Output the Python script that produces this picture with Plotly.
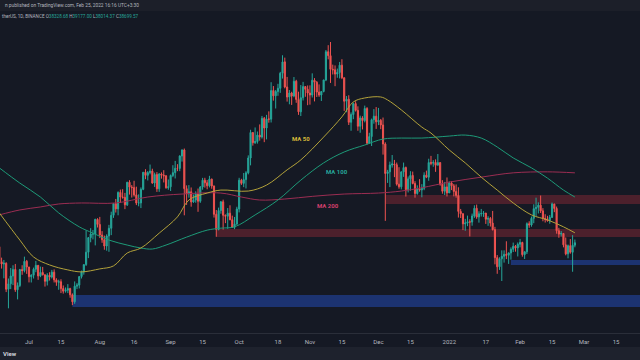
import plotly.graph_objects as go
import pandas as pd

# ---------------- data ----------------
first_day = "2021-06-18"
last_day = "2022-02-25"

opens = [
 38100,35820,35490,35600,31680,32500,33680,34660,31600,32240,34650,34490,35900,
 35040,33570,33800,34700,35290,33690,34220,33860,32880,33800,33510,34260,33090,32730,32820,31780,31390,31530,31780,30840,29790,32140,32300,33590,34290,35400,37270,39470,40020,40020,42230,
 41460,39850,39150,38200,39720,40880,42840,44610,43810,46290,45590,45550,44420,47830,47100,47020,45920,44690,44710,46760,49340,48870,49290,49510,47710,48990,46840,49070,48900,48800,46990,
 47150,48850,49280,49940,49920,51790,52700,46860,46070,46400,44850,45140,46060,44960,47110,48140,47750,47300,48300,47260,42990,40700,43560,44880,42840,42700,43160,42170,41030,41520,
 43790,48140,47660,48230,49250,51490,55340,53800,53970,54950,54660,57480,56010,57370,57350,61670,60870,61530,62010,64280,66000,62210,60690,61300,60850,63080,60330,58460,60590,62270,61860,
 61300,61000,63230,62930,61440,61000,61530,63270,67530,66940,64880,64800,64160,64400,65500,63610,60060,60360,56880,58050,59700,58680,56280,57540,57140,58960,53730,54720,57270,57800,
 56950,57180,56480,53600,49150,49400,50440,50590,50470,47540,47140,49390,50050,46700,48340,48860,47630,46130,46830,46680,46910,48900,48590,50800,50700,50820,50400,50800,47540,46470,47130,
 46220,47720,47290,46450,45830,43430,43080,41550,41680,41860,41820,42740,43900,42590,43070,43100,43180,42250,42370,41660,40680,36450,35070,36280,36650,36950,36810,37160,37710,38170,37920,
 38470,38740,36900,37330,41570,41380,42380,43840,44040,44370,43510,42370,42210,42050,42530,44540,43870,40520,40000,40100,38380,37020,38250,37260,38330]

highs = [
 38200,36450,36100,35750,33300,34880,35300,35500,32700,34750,35300,36600,36100,
 35050,33940,34950,35950,35300,35100,35050,33900,34100,34250,34600,34680,33340,33120,33190,32250,31950,32450,31900,31050,32860,32600,33650,34500,35400,40550,39540,40900,40630,42320,42400,
 42600,40450,39780,39970,41400,43390,44700,45310,46450,46720,46780,46220,47890,48140,47400,48050,47160,46000,47050,49380,49800,49520,50500,49870,49280,49360,49200,49310,49650,48900,48250,
 49000,50400,51050,50560,51900,52800,52920,47360,47400,47040,45990,46460,46880,47250,48490,48500,48160,48800,48370,47340,43640,44000,44980,45200,42960,43940,44350,42790,42590,44130,
 48500,48350,49230,49500,51890,55750,55340,56100,55490,56560,57840,57680,58000,58530,62930,62350,61750,62690,64490,67000,66640,63730,61750,61490,63710,63290,61500,62500,62980,62360,62440,
 62450,64270,63550,63100,62600,61560,63290,67790,68520,69000,65580,65460,64990,65990,66400,63620,60840,60960,58370,59850,60050,59290,57880,57800,59400,59170,55300,57440,58870,59180,
 59050,57380,57600,53860,49700,50940,51940,51200,50800,50100,49490,50800,50200,48700,49500,49440,47990,47360,48300,47540,49330,49580,51380,51810,51160,51280,52090,50800,48140,47880,48550,
 47950,47990,47570,47500,47070,43800,43150,42300,42790,42250,43100,44350,44460,43450,43800,43480,43200,42700,42580,43500,41100,36840,36500,37550,37550,38920,37230,38000,38720,38360,38740,
 39270,38850,37390,41770,41940,42650,44500,45500,44800,45820,43920,43000,42760,42880,44770,44580,44160,40950,40470,40140,39490,38430,39250,39840,39180]

lows = [
 35130,34800,33330,31250,28800,31700,32300,31280,30150,32000,33860,34220,34000,
 32710,32700,33300,34250,33100,33500,33770,32080,32250,33000,33300,32700,32200,31600,31100,31020,31170,31100,30400,29280,29480,31700,31800,33300,33880,35200,36380,38770,39200,38300,41000,
 39400,38690,37640,37500,37330,39850,42450,43260,42840,44700,45350,43770,44250,45970,45520,45660,44380,44200,43930,46630,48290,48100,49030,47600,47120,46370,46380,48370,47800,46860,46700,
 46510,48600,48400,49500,49500,50950,42840,44410,45500,44140,44720,44740,43370,44720,46700,47020,46770,47050,46850,42500,39600,40570,43080,40680,41660,40800,42100,40930,40750,41400,
 43280,47430,47090,46890,49020,50380,53360,53620,53660,54110,54420,53880,54300,56820,56850,60150,58960,60880,61320,63480,62000,60000,59600,59500,60660,59820,58000,57820,60170,60730,59460,
 59540,60620,60030,60700,60720,60100,61400,63090,66380,62820,64100,62330,63600,63500,63400,58600,58400,56470,55600,57350,58500,55600,55300,55800,56870,53500,53660,53300,56670,55880,
 56450,55840,52000,42000,47730,47100,50040,48600,47320,46850,46750,48640,45670,46290,46550,47520,45500,45950,46400,45560,46630,48450,48050,50400,50170,49400,50400,47310,46100,45900,45680,
 46210,46650,45700,45500,42500,42430,40610,40500,41200,39650,41270,42450,42310,41730,42650,42600,41540,41250,41140,40550,35440,34010,34600,32920,35700,36230,35500,36150,37300,37350,36630,
 38000,36590,36250,37000,40950,41120,41650,42670,43120,43190,41940,41750,41870,41570,42430,43310,40070,39450,39640,38000,36800,36350,37040,34320,38010]

closes = [
 35820,35490,35600,31680,32500,33680,34660,31600,32240,34650,34490,35900,35040,
 33570,33800,34700,35290,33690,34220,33860,32880,33800,33510,34260,33090,32730,32820,31780,31390,31530,31780,30840,29790,32140,32300,33590,34290,35400,37270,39470,40020,40020,42230,41460,
 39850,39150,38200,39720,40880,42840,44610,43810,46290,45590,45550,44420,47830,47100,47020,45920,44690,44710,46760,49340,48870,49290,49510,47710,48990,46840,49070,48900,48800,46990,47150,
 48850,49280,49940,49920,51790,52700,46860,46070,46400,44850,45140,46060,44960,47110,48140,47750,47300,48300,47260,42990,40700,43560,44880,42840,42700,43160,42170,41030,41520,43790,
 48140,47660,48230,49250,51490,55340,53800,53970,54950,54660,57480,56010,57370,57350,61670,60870,61530,62010,64280,66000,62210,60690,61300,60850,63080,60330,58460,60590,62270,61860,61300,
 61000,63230,62930,61440,61000,61530,63270,67530,66940,64880,64800,64160,64400,65500,63610,60060,60360,56880,58050,59700,58680,56280,57540,57140,58960,53730,54720,57270,57800,56950,
 57180,56480,53600,49150,49400,50440,50590,50470,47540,47140,49390,50050,46700,48340,48860,47630,46130,46830,46680,46910,48900,48590,50800,50700,50820,50400,50800,47540,46470,47130,46220,
 47720,47290,46450,45830,43430,43080,41550,41680,41860,41820,42740,43900,42590,43070,43100,43180,42250,42370,41660,40680,36450,35070,36280,36650,36950,36810,37160,37710,38170,37920,38470,
 38740,36900,37330,41570,41380,42380,43840,44040,44370,43510,42370,42210,42050,42530,44540,43870,40520,40000,40100,38380,37020,38250,37260,38330,38700]

dates = pd.date_range(first_day, last_day, freq="D")

# moving averages
ma50_dates = ["2021-06-18","2021-06-27","2021-07-03","2021-07-10","2021-07-18","2021-07-24","2021-08-01",
              "2021-08-07","2021-08-13","2021-08-19","2021-08-27","2021-09-04","2021-09-09","2021-09-17",
              "2021-09-23","2021-10-05","2021-10-13","2021-10-22","2021-10-28","2021-11-07","2021-11-15",
              "2021-11-20","2021-11-25","2021-12-02","2021-12-05","2021-12-11","2021-12-20","2021-12-24",
              "2022-01-01","2022-01-08","2022-01-15","2022-01-22","2022-01-29","2022-02-06","2022-02-13",
              "2022-02-20","2022-02-25"]
ma50_vals = [43200,39100,36550,35350,34600,34300,34750,35200,37150,37900,40150,42600,45150,46200,
             46650,46500,47400,49700,51200,54650,57700,59950,60550,60700,60250,58750,56150,55250,
             52700,50750,48600,46650,44700,42900,42150,41100,40200]

ma100_dates = ["2021-06-18","2021-06-27","2021-07-06","2021-07-14","2021-07-23","2021-07-29","2021-08-05",
               "2021-08-13","2021-08-19","2021-08-24","2021-08-30","2021-09-08","2021-09-17","2021-09-23",
               "2021-09-29","2021-10-08","2021-10-18","2021-10-28","2021-11-07","2021-11-16","2021-11-25",
               "2021-12-03","2021-12-11","2021-12-20","2022-01-01","2022-01-08","2022-01-15","2022-01-22",
               "2022-01-29","2022-02-06","2022-02-13","2022-02-20","2022-02-25"]
ma100_vals = [50000,47700,45600,43200,41100,40150,39100,38350,37900,37750,38350,39550,40600,40900,
              41100,42900,45150,48150,50750,52400,53450,54350,54500,54500,54800,54950,54500,53150,
              51500,50000,48450,46650,45600]

ma200_dates = ["2021-06-18","2021-06-27","2021-07-06","2021-07-14","2021-07-24","2021-08-08","2021-08-22",
               "2021-09-06","2021-09-23","2021-10-02","2021-10-10","2021-10-21","2021-11-02","2021-11-16",
               "2021-12-01","2021-12-11","2021-12-20","2022-01-01","2022-01-15","2022-01-29","2022-02-13",
               "2022-02-25"]
ma200_vals = [42900,43650,44100,44550,44700,44700,45600,46050,46200,45600,45150,45300,45700,46050,
              46200,46500,47000,47850,48600,49250,49400,49250]

# MA label positions (date, price)
ma_label_texts = ["MA 50", "MA 100", "MA 200"]
ma_label_dates = ["2021-10-28", "2021-11-13", "2021-11-09"]
ma_label_prices = [54500, 49400, 44250]
ma_label_colors = ["#d6b93a", "#26a69a", "#d23f6c"]

# horizontal zones (start date, low price, high price)
zone_starts = ["2021-07-20", "2022-01-28", "2021-09-21", "2021-12-04"]
zone_lows = [29000, 35350, 39550, 44550]
zone_highs = [30800, 36100, 40770, 45900]
zone_colors = ["#1c3371", "#1c3371", "#4c202c", "#4c202c"]

tick_dates = ["2021-07-01","2021-07-15","2021-08-01","2021-08-16","2021-09-01","2021-09-15",
              "2021-10-01","2021-10-18","2021-11-01","2021-11-15","2021-12-01","2021-12-15",
              "2022-01-01","2022-01-17","2022-02-01","2022-02-15","2022-03-01","2022-03-15"]
tick_labels = ["Jul","15","Aug","16","Sep","15","Oct","18","Nov","15","Dec","15",
               "2022","17","Feb","15","Mar","15"]

# ---------------- figure ----------------
BG = "#151924"
fig = go.Figure()

for s, lo, hi, c in zip(zone_starts, zone_lows, zone_highs, zone_colors):
    fig.add_shape(type="rect", xref="x", yref="y", x0=s, x1="2022-04-30",
                  y0=lo, y1=hi, fillcolor=c, line_width=0, layer="below")

fig.add_trace(go.Scatter(x=ma200_dates, y=ma200_vals, mode="lines",
                         line=dict(color="#9b2d52", width=1, shape="spline"), hoverinfo="skip"))
fig.add_trace(go.Scatter(x=ma100_dates, y=ma100_vals, mode="lines",
                         line=dict(color="#1d9a78", width=1, shape="spline"), hoverinfo="skip"))
fig.add_trace(go.Scatter(x=ma50_dates, y=ma50_vals, mode="lines",
                         line=dict(color="#b3a23a", width=1, shape="spline"), hoverinfo="skip"))

fig.add_trace(go.Candlestick(
    x=dates, open=opens, high=highs, low=lows, close=closes,
    increasing=dict(line=dict(color="#26a69a", width=1), fillcolor="#26a69a"),
    decreasing=dict(line=dict(color="#ef5350", width=1), fillcolor="#ef5350"),
    whiskerwidth=0, hoverinfo="skip"))

for t, d, p, c in zip(ma_label_texts, ma_label_dates, ma_label_prices, ma_label_colors):
    fig.add_annotation(x=d, y=p, text="<b>" + t + "</b>", showarrow=False,
                       font=dict(color=c, size=6, family="Roboto"))

# header band + texts
fig.add_shape(type="rect", xref="paper", yref="paper", x0=0, x1=1, y0=1 - 11/360, y1=1,
              fillcolor="#1c1f29", line_width=0, layer="above")
fig.add_annotation(xref="paper", yref="paper", x=3/640, y=1 - 5.5/360, xanchor="left", yanchor="middle",
                   text="n published on TradingView.com, Feb 25, 2022 16:16 UTC+3:30", showarrow=False,
                   font=dict(color="#b2b5be", size=4.8, family="Roboto"))
fig.add_annotation(xref="paper", yref="paper", x=0, y=1 - 16.5/360, xanchor="left", yanchor="middle",
                   text=("<span style='color:#b2b5be'>therUS, 1D, BINANCE</span> "
                         "<span style='color:#b2b5be'>O</span>38328.68 "
                         "<span style='color:#b2b5be'>H</span>39177.00 "
                         "<span style='color:#b2b5be'>L</span>38014.37 "
                         "<span style='color:#b2b5be'>C</span>38699.57"),
                   showarrow=False, font=dict(color="#26a69a", size=4.6, family="Roboto"))

# footer
fig.add_shape(type="rect", xref="paper", yref="paper", x0=0, x1=1, y0=0, y1=13/360,
              fillcolor="#1e222d", line_width=0, layer="above")
fig.add_annotation(xref="paper", yref="paper", x=1/640, y=6.5/360, xanchor="left", yanchor="middle",
                   text="<b>View</b>", showarrow=False, font=dict(color="#d1d4dc", size=6, family="Roboto"))

fig.update_layout(
    width=640, height=360, margin=dict(l=0, r=0, t=0, b=0),
    paper_bgcolor=BG, plot_bgcolor=BG, showlegend=False,
    xaxis=dict(range=["2021-06-18 07:16", "2022-03-25 12:14"], rangeslider=dict(visible=False),
               showgrid=False, zeroline=False, tickvals=tick_dates, ticktext=tick_labels,
               tickfont=dict(color="#b2b5be", size=6, family="Roboto"), ticks="",
               ticklabelstandoff=3,
               showline=True, linecolor="#2a2e39", linewidth=1, anchor="y"),
    yaxis=dict(range=[25075, 75339], domain=[27/360, 1], showgrid=False, zeroline=False,
               showticklabels=False),
)

fig.write_html("out.html", config={"displayModeBar": False},
               post_script="document.body.style.margin='0';document.body.style.overflow='hidden';")
